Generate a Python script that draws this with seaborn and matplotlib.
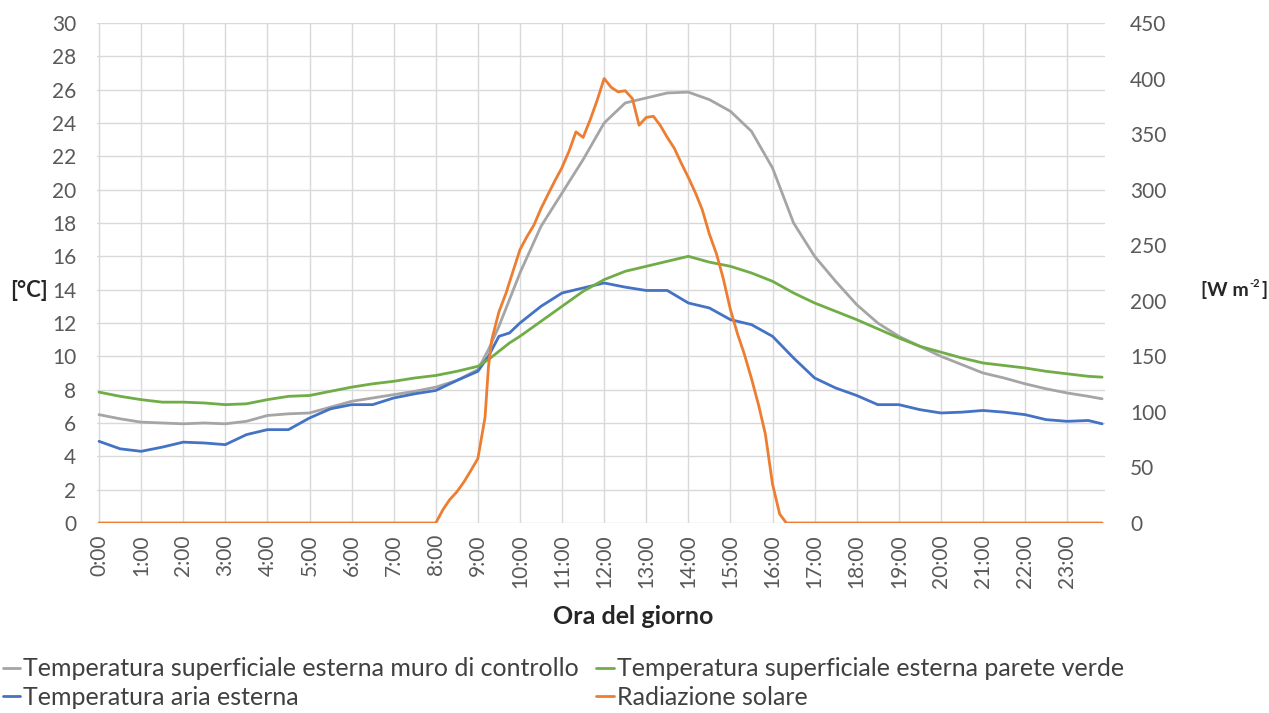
"""Temperature superficiali e radiazione solare nell'arco della giornata"""

import matplotlib
matplotlib.use("Agg")
import matplotlib.pyplot as plt
import seaborn as sns

sns.set_theme(style="whitegrid")
plt.rcParams["font.family"] = ["Lato", "DejaVu Sans"]

# ore del giorno (h decimali) per le serie di temperatura
ore = [0, 0.5, 1, 1.5, 2, 2.5, 3, 3.5, 4, 4.5, 5, 5.5, 6, 6.5, 7, 7.5, 8, 8.5,
       9, 9.25, 9.5, 9.75, 10, 10.5, 11, 11.5, 12, 12.5, 13, 13.5, 14, 14.5,
       15, 15.5, 16, 16.5, 17, 17.5, 18, 18.5, 19, 19.5, 20, 20.5, 21, 21.5,
       22, 22.5, 23, 23.5, 23.83]

t_muro = [6.5, 6.25, 6.05, 6.0, 5.95, 6.0, 5.95, 6.1, 6.45, 6.55, 6.6, 6.95,
          7.3, 7.5, 7.7, 7.9, 8.15, 8.55, 9.2, 10.4, 11.8, 13.4, 15.0, 17.8,
          19.8, 21.8, 24.0, 25.2, 25.5, 25.8, 25.85, 25.4, 24.7, 23.5, 21.3,
          18.0, 16.0, 14.5, 13.1, 12.0, 11.2, 10.6, 10.0, 9.5, 9.0, 8.7,
          8.35, 8.05, 7.8, 7.6, 7.45]

t_verde = [7.85, 7.6, 7.4, 7.25, 7.25, 7.2, 7.1, 7.15, 7.4, 7.6, 7.65, 7.9,
           8.15, 8.35, 8.5, 8.7, 8.85, 9.1, 9.4, 9.8, 10.3, 10.8, 11.2, 12.1,
           13.0, 13.9, 14.6, 15.1, 15.4, 15.7, 16.0, 15.65, 15.4, 15.0, 14.5,
           13.8, 13.2, 12.7, 12.2, 11.65, 11.1, 10.6, 10.25, 9.9, 9.6, 9.45,
           9.3, 9.1, 8.95, 8.8, 8.75]

t_aria = [4.9, 4.45, 4.3, 4.55, 4.85, 4.8, 4.7, 5.3, 5.6, 5.6, 6.3, 6.85,
          7.1, 7.1, 7.5, 7.75, 7.95, 8.55, 9.1, 10.0, 11.2, 11.4, 12.0, 13.0,
          13.8, 14.1, 14.4, 14.15, 13.95, 13.95, 13.2, 12.9, 12.2, 11.9, 11.2,
          9.9, 8.7, 8.1, 7.65, 7.1, 7.1, 6.8, 6.6, 6.65, 6.75, 6.65, 6.5,
          6.2, 6.1, 6.15, 5.95]

# radiazione solare [W m-2]
ore_rad = [0, 8.0, 8.17, 8.33, 8.5, 8.67, 8.83, 9.0, 9.17, 9.25, 9.33, 9.5,
           9.67, 9.83, 10.0, 10.17, 10.33, 10.5, 10.67, 10.83, 11.0, 11.17,
           11.33, 11.5, 11.67, 11.83, 12.0, 12.17, 12.33, 12.5, 12.67, 12.83,
           13.0, 13.17, 13.33, 13.5, 13.67, 13.83, 14.0, 14.17, 14.33, 14.5,
           14.67, 14.83, 15.0, 15.17, 15.33, 15.5, 15.67, 15.83, 16.0, 16.17,
           16.33, 23.83]
radiazione = [0, 0, 12, 21, 28, 37, 47, 58, 95, 140, 165, 190, 207, 226, 246,
              258, 268, 283, 296, 308, 320, 335, 352, 347, 363, 380, 400, 392,
              388, 389, 382, 358, 365, 366, 358, 347, 337, 324, 311, 297, 282,
              260, 242, 220, 192, 170, 152, 130, 106, 80, 35, 8, 0, 0]

etichette_ore = [f"{h}:00" for h in range(24)]

COLORS = {"muro": "#A5A5A5", "verde": "#70AD47", "aria": "#4472C4", "rad": "#ED7D31"}
TICK_COLOR = "#595959"
GRID_COLOR = "#D9D9D9"

fig = plt.figure(figsize=(12.69, 7.13), dpi=100)
ax = fig.add_axes([0.0764, 0.2665, 0.7944, 0.7013])
ax2 = ax.twinx()

sns.lineplot(x=ore, y=t_muro, ax=ax, color=COLORS["muro"], lw=2,
             label="Temperatura superficiale esterna muro di controllo")
sns.lineplot(x=ore, y=t_aria, ax=ax, color=COLORS["aria"], lw=2,
             label="Temperatura aria esterna")
sns.lineplot(x=ore, y=t_verde, ax=ax, color=COLORS["verde"], lw=2,
             label="Temperatura superficiale esterna parete verde")
sns.lineplot(x=ore_rad, y=radiazione, ax=ax2, color=COLORS["rad"], lw=2,
             label="Radiazione solare")

ax.set_xlim(-0.05, 23.9)
ax.set_ylim(0, 30)
ax2.set_ylim(0, 450)
ax.set_yticks(range(0, 31, 2))
ax2.set_yticks(range(0, 451, 50))
ax.set_xticks(range(24))
ax.set_xticklabels(etichette_ore, rotation=90)

for a in (ax, ax2):
    for s in a.spines.values():
        s.set_visible(False)
    a.tick_params(axis="both", length=0, labelsize=15, colors=TICK_COLOR)
ax.tick_params(axis="x", pad=8)
ax.tick_params(axis="y", pad=15)
ax2.tick_params(axis="y", pad=18)
ax.grid(True, color=GRID_COLOR, lw=1)
ax2.grid(False)
ax.set_xlabel("")
ax.set_ylabel("")
ax2.set_ylabel("")

# etichette degli assi
fig.text(29 / 1269, 1 - 290 / 713, "[°C]", fontsize=16, fontweight="bold", ha="center", va="center")
fig.text(1249 / 1269, 1 - 290 / 713, "[W m", fontsize=14, fontweight="bold", ha="right", va="center")
fig.text(1249 / 1269, 1 - 283 / 713, "-2", fontsize=8, fontweight="bold", ha="left", va="center")
fig.text(1261 / 1269, 1 - 290 / 713, "]", fontsize=14, fontweight="bold", ha="left", va="center")
fig.text(633 / 1269, 1 - 617 / 713, "Ora del giorno", fontsize=18, fontweight="bold",
         ha="center", va="center")

h1, l1 = ax.get_legend_handles_labels()
h2, l2 = ax2.get_legend_handles_labels()
ax.get_legend().remove()
ax2.get_legend().remove()
handles = [h1[0], h1[1], h1[2], h2[0]]
labels = [l1[0], l1[1], l1[2], l2[0]]
fig.legend(handles, labels, ncol=2, loc="upper left", bbox_to_anchor=(0.0, 1 - 655 / 713),
           frameon=False, fontsize=18, handlelength=0.7, handletextpad=0.12,
           columnspacing=0.7, labelspacing=0.22, borderaxespad=0, borderpad=0.1,
           labelcolor="#404040")

fig.savefig("out.png", dpi=100, facecolor="white")
